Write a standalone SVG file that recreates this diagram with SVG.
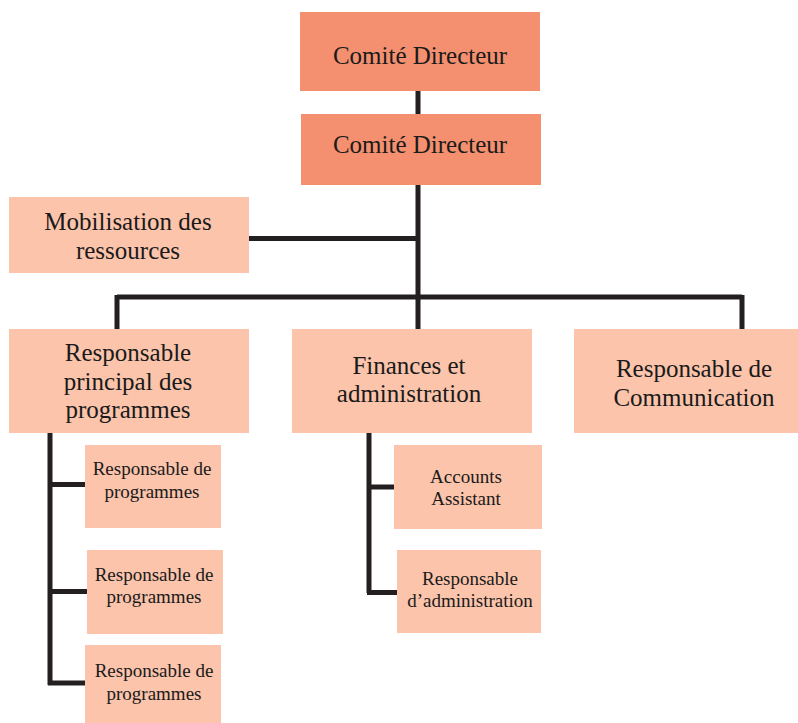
<svg xmlns="http://www.w3.org/2000/svg" width="798" height="723" viewBox="0 0 798 723">
<style>
.dark{fill:#F4906F}
.light{fill:#FBC4AB}
text{font-family:"Liberation Serif","DejaVu Serif",serif;fill:#1a1a1a;text-anchor:middle}
.big{font-size:25px}
.small{font-size:19px}
.c{fill:none;stroke:#231F20;stroke-width:5}
</style>
<rect width="798" height="723" fill="#fff"/>
<g id="connectors">
<path class="c" d="M418 91V114M418 185V297M249 238.5H418M117 297H742M117 295V329M418 295V329M742 295V329"/>
<path class="c" d="M50 432V685M48 484.5H85M48 591.5H87M48 683H85"/>
<path class="c" d="M369 432V593M367 487H394M367 592.5H397"/>
</g>
<g id="n1"><rect class="dark" x="300" y="12" width="240" height="79"/><text class="big" x="420" y="64">Comité Directeur</text></g>
<g id="n2"><rect class="dark" x="301" y="114" width="240" height="71"/><text class="big" x="420" y="153">Comité Directeur</text></g>
<g id="n3"><rect class="light" x="9" y="197" width="240" height="76"/><text class="big" x="128" y="230">Mobilisation des</text><text class="big" x="128" y="259">ressources</text></g>
<g id="n4"><rect class="light" x="9" y="329" width="240" height="104"/><text class="big" x="128" y="361">Responsable</text><text class="big" x="128" y="390">principal des</text><text class="big" x="128" y="418">programmes</text></g>
<g id="n5"><rect class="light" x="292" y="329" width="240" height="104"/><text class="big" x="409" y="374">Finances et</text><text class="big" x="409" y="402">administration</text></g>
<g id="n6"><rect class="light" x="574" y="329" width="224" height="104"/><text class="big" x="694" y="377">Responsable de</text><text class="big" x="694" y="406">Communication</text></g>
<g id="n7"><rect class="light" x="85" y="445" width="136" height="83"/><text class="small" x="152" y="475">Responsable de</text><text class="small" x="152" y="498">programmes</text></g>
<g id="n8"><rect class="light" x="87" y="550" width="136" height="84"/><text class="small" x="154" y="581">Responsable de</text><text class="small" x="154" y="603">programmes</text></g>
<g id="n9"><rect class="light" x="85" y="645" width="136" height="78"/><text class="small" x="154" y="677">Responsable de</text><text class="small" x="154" y="700">programmes</text></g>
<g id="n10"><rect class="light" x="394" y="445" width="148" height="84"/><text class="small" x="466" y="483">Accounts</text><text class="small" x="466" y="505">Assistant</text></g>
<g id="n11"><rect class="light" x="397" y="550" width="144" height="83"/><text class="small" x="470" y="585">Responsable</text><text class="small" x="470" y="607">d’administration</text></g>
</svg>
